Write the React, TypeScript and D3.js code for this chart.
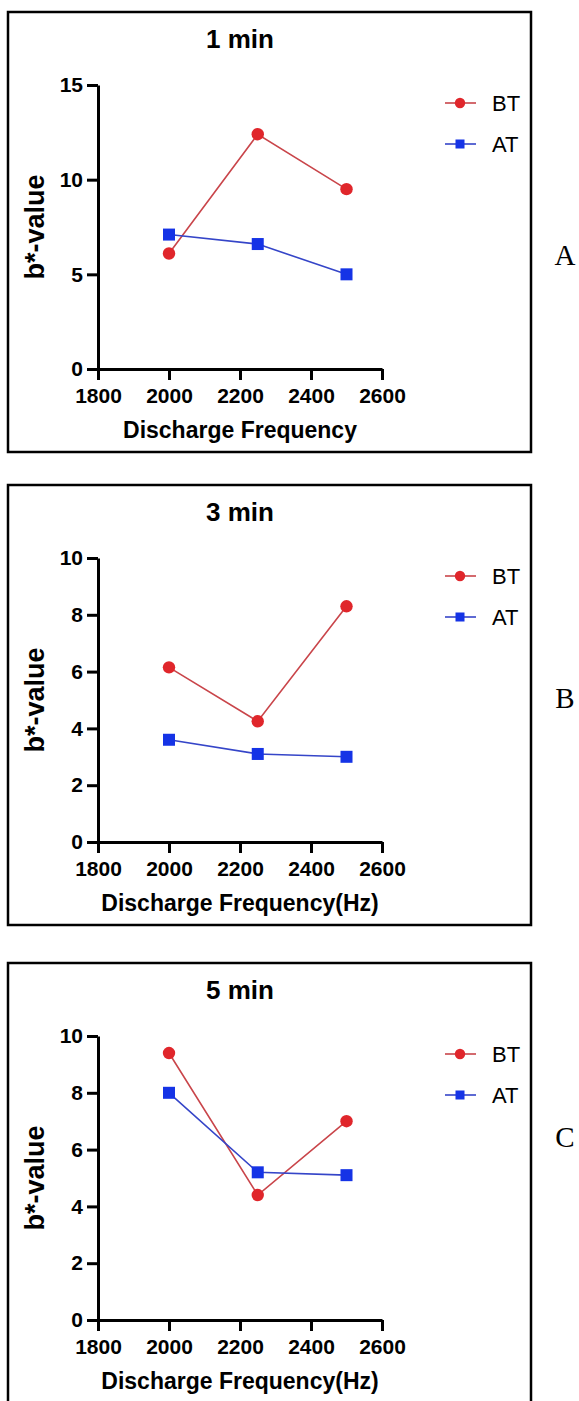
import { useEffect, useRef } from 'react';
import * as d3 from 'd3';

// discharge frequencies (Hz) shared by all panels
const frequencies = [2000, 2250, 2500];
const xTicks = [1800, 2000, 2200, 2400, 2600];

// b*-values, before (BT) and after (AT) treatment
const bt1min = [6.1, 12.4, 9.5];
const at1min = [7.1, 6.6, 5.0];
const bt3min = [6.15, 4.25, 8.3];
const at3min = [3.6, 3.1, 3.0];
const bt5min = [9.4, 4.4, 7.0];
const at5min = [8.0, 5.2, 5.1];

const yTicks1min = [0, 5, 10, 15];
const yTicks3min = [0, 2, 4, 6, 8, 10];
const yTicks5min = [0, 2, 4, 6, 8, 10];

const titles = ['1 min', '3 min', '5 min'];
const xTitles = ['Discharge Frequency', 'Discharge Frequency(Hz)', 'Discharge Frequency(Hz)'];
const letters = ['A', 'B', 'C'];
const seriesNames = ['BT', 'AT'];

const panels = [
  { bt: bt1min, at: at1min, ticks: yTicks1min },
  { bt: bt3min, at: at3min, ticks: yTicks3min },
  { bt: bt5min, at: at5min, ticks: yTicks5min },
];

const W = 579;
const H = 1401;
const tops = [12, 485, 963];
const letterY = [253, 223, 184];

const RED = '#e0262b';
const RED_LINE = '#c9454a';
const BLUE = '#1533e6';
const BLUE_LINE = '#3545c8';
const SANS = '"Liberation Sans", Arial, Helvetica, sans-serif';

function App() {
  const ref = useRef<SVGSVGElement>(null);

  useEffect(() => {
    const svg = d3.select(ref.current);
    svg.selectAll('*').remove();

    panels.forEach((p, i) => {
      const top = tops[i];
      const g = svg.append('g');

      g.append('rect')
        .attr('x', 8)
        .attr('y', top)
        .attr('width', 523)
        .attr('height', 440)
        .attr('fill', 'none')
        .attr('stroke', '#000')
        .attr('stroke-width', 2.5);

      const x = d3.scaleLinear().domain([1800, 2600]).range([98, 382]);
      const y = d3
        .scaleLinear()
        .domain([0, d3.max(p.ticks) as number])
        .range([top + 357, top + 73]);

      const xAxis = g
        .append('g')
        .attr('transform', `translate(0,${top + 357})`)
        .call(
          d3.axisBottom(x).tickValues(xTicks).tickSize(11).tickSizeOuter(0).tickPadding(8).tickFormat(d3.format('d'))
        );

      const yAxis = g
        .append('g')
        .attr('transform', 'translate(98,0)')
        .call(d3.axisLeft(y).tickValues(p.ticks).tickSize(11).tickSizeOuter(0).tickPadding(4).tickFormat(d3.format('d')));

      [xAxis, yAxis].forEach(a => {
        a.select('.domain').attr('stroke', '#000').attr('stroke-width', 3);
        a.selectAll('.tick line').attr('stroke', '#000').attr('stroke-width', 3);
        a.selectAll('.tick text')
          .attr('fill', '#000')
          .style('font-family', SANS)
          .style('font-weight', 'bold')
          .style('font-size', '21px');
      });

      // title
      g.append('text')
        .attr('x', 240)
        .attr('y', top + 36)
        .attr('text-anchor', 'middle')
        .style('font-family', SANS)
        .style('font-weight', 'bold')
        .style('font-size', '26px')
        .text(titles[i]);

      // x axis title
      g.append('text')
        .attr('x', 240)
        .attr('y', top + 426)
        .attr('text-anchor', 'middle')
        .style('font-family', SANS)
        .style('font-weight', 'bold')
        .style('font-size', '23px')
        .text(xTitles[i]);

      // y axis title
      g.append('text')
        .attr('transform', `translate(44,${(top + 73 + top + 357) / 2}) rotate(-90)`)
        .attr('text-anchor', 'middle')
        .style('font-family', SANS)
        .style('font-weight', 'bold')
        .style('font-size', '27px')
        .text('b*-value');

      const line = d3
        .line<number>()
        .x((_, k) => x(frequencies[k]))
        .y(d => y(d));

      g.append('path')
        .attr('d', line(p.bt))
        .attr('fill', 'none')
        .attr('stroke', RED_LINE)
        .attr('stroke-width', 1.6);

      g.append('path')
        .attr('d', line(p.at))
        .attr('fill', 'none')
        .attr('stroke', BLUE_LINE)
        .attr('stroke-width', 1.6);

      g.selectAll('circle.bt')
        .data(p.bt)
        .join('circle')
        .attr('class', 'bt')
        .attr('cx', (_, k) => x(frequencies[k]))
        .attr('cy', d => y(d))
        .attr('r', 6.2)
        .attr('fill', RED);

      g.selectAll('rect.at')
        .data(p.at)
        .join('rect')
        .attr('class', 'at')
        .attr('x', (_, k) => x(frequencies[k]) - 6)
        .attr('y', d => y(d) - 6)
        .attr('width', 12)
        .attr('height', 12)
        .attr('fill', BLUE);

      // legend
      const leg = g.append('g');
      seriesNames.forEach((name, k) => {
        const ly = top + (k === 0 ? 91 : 132);
        leg.append('line')
          .attr('x1', 445)
          .attr('x2', 476)
          .attr('y1', ly)
          .attr('y2', ly)
          .attr('stroke', k === 0 ? RED_LINE : BLUE_LINE)
          .attr('stroke-width', 1.6);
        if (k === 0) {
          leg.append('circle').attr('cx', 460).attr('cy', ly).attr('r', 5.2).attr('fill', RED);
        } else {
          leg.append('rect').attr('x', 455.5).attr('y', ly - 4.5).attr('width', 9).attr('height', 9).attr('fill', BLUE);
        }
        leg.append('text')
          .attr('x', 492)
          .attr('y', ly)
          .attr('dy', '0.36em')
          .style('font-family', SANS)
          .style('font-size', '22px')
          .text(name);
      });

      // panel letter
      svg.append('text')
        .attr('x', 565)
        .attr('y', top + letterY[i])
        .attr('text-anchor', 'middle')
        .style('font-family', '"Liberation Serif", "Times New Roman", serif')
        .style('font-size', '29px')
        .text(letters[i]);
    });

    return () => {
      svg.selectAll('*').remove();
    };
  }, []);

  return (
    <svg
      ref={ref}
      width={W}
      height={H}
      style={{ position: 'absolute', left: 0, top: 0, background: '#fff' }}
      role="img"
      aria-label="b*-value vs discharge frequency"
    />
  );
}

export default App;
